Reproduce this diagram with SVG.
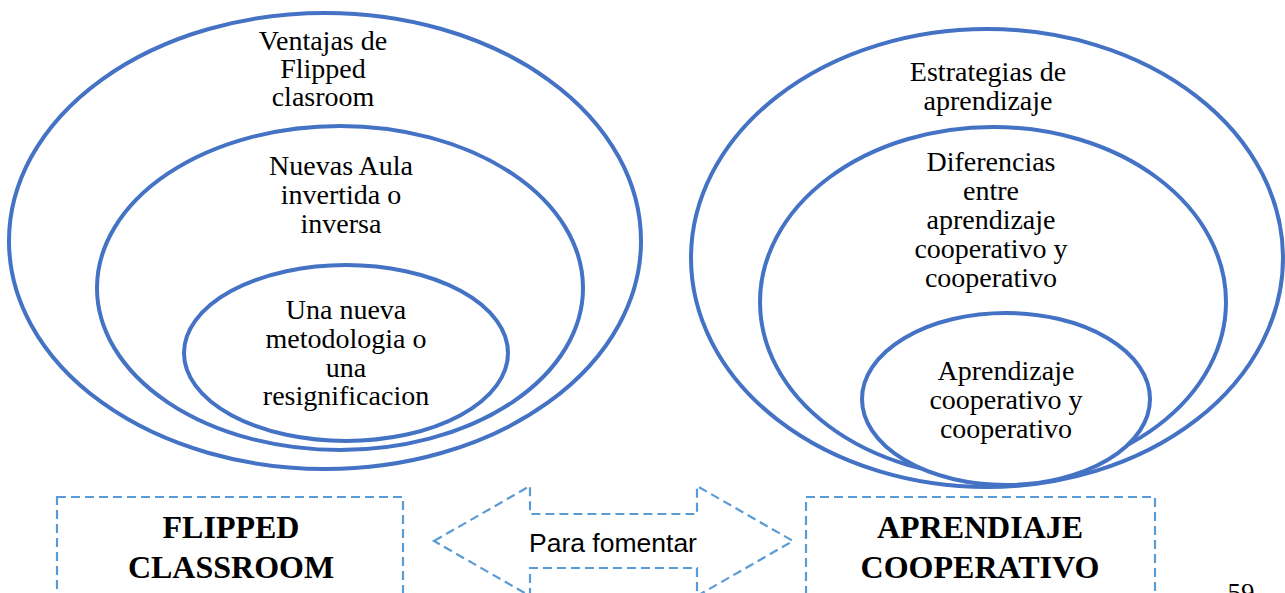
<svg xmlns="http://www.w3.org/2000/svg" width="1285" height="593" viewBox="0 0 1285 593">
<style>
.ell{fill:none;stroke:#4472C4;stroke-width:4}
.fill{fill:#fff}
.dash{fill:none;stroke:#5B9BD5;stroke-width:2.2;stroke-dasharray:9 5}
.t{font-family:"Liberation Serif","Times New Roman",serif;font-size:28px;fill:#000;text-anchor:middle}
.b{font-family:"Liberation Serif","Times New Roman",serif;font-size:32px;font-weight:bold;fill:#000;text-anchor:middle}
.s{font-family:"Liberation Sans",Arial,sans-serif;font-size:26.5px;fill:#000;text-anchor:middle}
</style>
<rect width="1285" height="593" fill="#fff"/>
<g id="flipped-outer">
<ellipse class="ell" cx="325" cy="241" rx="316" ry="228"/>
<text class="t" x="323" y="50">Ventajas de</text>
<text class="t" x="323" y="78">Flipped</text>
<text class="t" x="323" y="106">clasroom</text>
</g>
<g id="flipped-middle">
<ellipse class="ell" cx="340" cy="288" rx="243" ry="162"/>
<text class="t" x="341" y="175">Nuevas Aula</text>
<text class="t" x="341" y="204">invertida o</text>
<text class="t" x="341" y="233">inversa</text>
</g>
<g id="flipped-inner">
<ellipse class="ell" cx="346" cy="353" rx="162" ry="88"/>
<text class="t" x="346" y="319">Una nueva</text>
<text class="t" x="346" y="348">metodologia o</text>
<text class="t" x="346" y="377">una</text>
<text class="t" x="346" y="405">resignificacion</text>
</g>
<g id="coop-outer">
<ellipse class="ell" cx="987" cy="258" rx="296" ry="229"/>
<text class="t" x="988" y="81">Estrategias de</text>
<text class="t" x="988" y="110">aprendizaje</text>
</g>
<g id="coop-middle">
<ellipse class="ell" cx="993" cy="302" rx="233" ry="175"/>
<text class="t" x="991" y="171">Diferencias</text>
<text class="t" x="991" y="200">entre</text>
<text class="t" x="991" y="229">aprendizaje</text>
<text class="t" x="991" y="258">cooperativo y</text>
<text class="t" x="991" y="287">cooperativo</text>
</g>
<g id="coop-inner">
<ellipse class="ell fill" cx="1006" cy="399" rx="144" ry="86"/>
<text class="t" x="1006" y="380">Aprendizaje</text>
<text class="t" x="1006" y="409">cooperativo y</text>
<text class="t" x="1006" y="438">cooperativo</text>
</g>
<g id="box-flipped">
<rect class="dash" x="57" y="497" width="346" height="120"/>
<text class="b" x="231" y="538">FLIPPED</text>
<text class="b" x="231" y="578">CLASSROOM</text>
</g>
<g id="box-coop">
<rect class="dash" x="806" y="497" width="349" height="120"/>
<text class="b" x="980" y="538">APRENDIAJE</text>
<text class="b" x="980" y="578">COOPERATIVO</text>
</g>
<g id="connectors">
<path class="dash" d="M434,541 L530,486 L530,514 L697,514 L697,486 L793,541 L697,596 L697,568 L530,568 L530,596 Z"/>
<text class="s" x="613" y="552">Para fomentar</text>
</g>
<text class="t" x="1241" y="602" style="font-size:27px">59</text>
</svg>
